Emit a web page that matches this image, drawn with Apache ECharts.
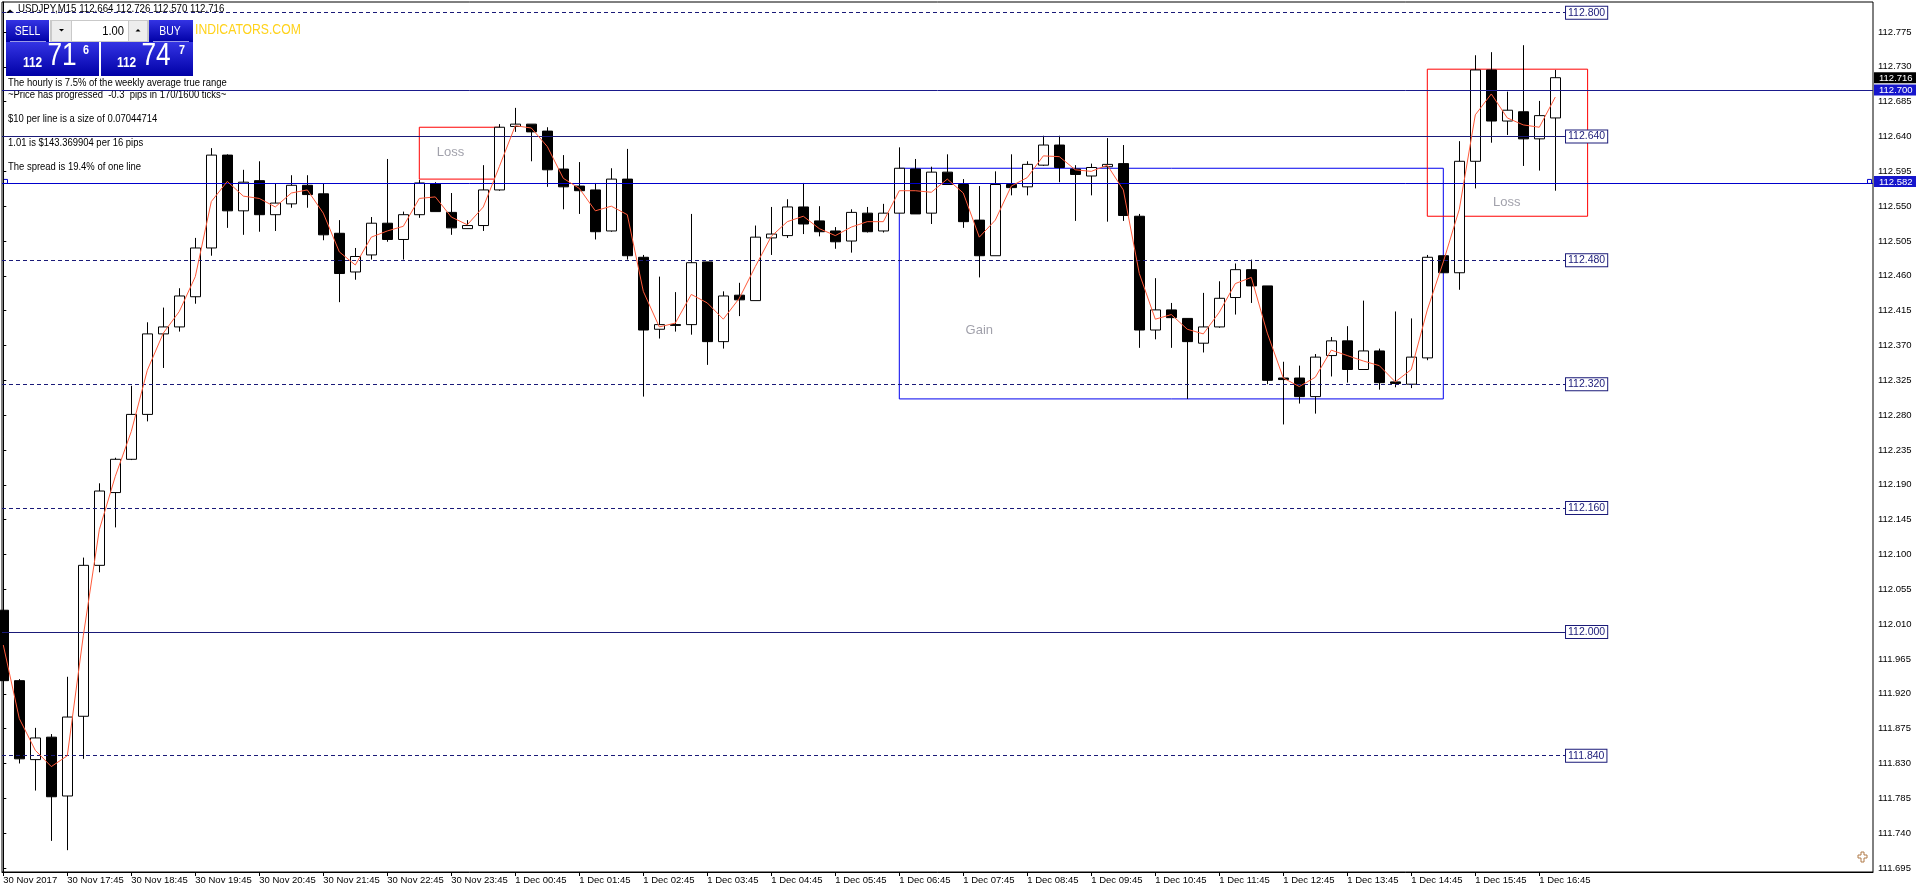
<!DOCTYPE html>
<html><head><meta charset="utf-8">
<script src="https://cdn.jsdelivr.net/npm/echarts@6/dist/echarts.min.js"></script>
<style>html,body{margin:0;padding:0;background:#fff;overflow:hidden}#c{width:1916px;height:893px}</style>
</head><body><div id="c"></div>
<script>
// ---------- data ----------
const symbolName = 'USDJPY,M15';
const opens = [112.028,111.937,111.835,111.864,111.788,111.891,112.086,112.180,112.223,112.281,
112.385,112.394,112.433,112.496,112.616,112.544,112.583,112.539,112.553,112.577,
112.566,112.515,112.465,112.487,112.528,112.507,112.539,112.579,112.542,112.521,
112.525,112.571,112.653,112.656,112.647,112.598,112.576,112.571,112.518,112.585,
112.484,112.391,112.397,112.397,112.478,112.375,112.435,112.428,112.509,112.512,
112.549,112.531,112.518,112.505,112.541,112.518,112.541,112.598,112.541,112.594,
112.578,112.532,112.486,112.578,112.575,112.603,112.629,112.598,112.589,112.601,
112.605,112.537,112.390,112.416,112.405,112.373,112.394,112.432,112.468,112.447,
112.328,112.328,112.304,112.357,112.376,112.339,112.363,112.323,112.320,112.354,
112.486,112.464,112.608,112.726,112.660,112.672,112.637,112.664];
const closes = [111.937,111.836,111.863,111.787,111.890,112.086,112.182,112.223,112.281,112.385,
112.394,112.434,112.496,112.616,112.544,112.581,112.539,112.554,112.577,112.565,
112.513,112.463,112.485,112.528,112.507,112.539,112.580,112.543,112.522,112.525,
112.571,112.652,112.656,112.646,112.597,112.575,112.570,112.517,112.585,112.486,
112.390,112.397,112.396,112.477,112.375,112.434,112.429,112.510,112.514,112.549,
112.527,112.517,112.504,112.542,112.517,112.541,112.599,112.540,112.594,112.578,
112.530,112.486,112.578,112.574,112.604,112.629,112.600,112.591,112.600,112.604,
112.538,112.390,112.416,112.406,112.375,112.394,112.431,112.468,112.447,112.325,
112.326,112.304,112.355,112.376,112.339,112.363,112.322,112.321,112.355,112.484,
112.464,112.608,112.726,112.660,112.674,112.637,112.667,112.716];
const lows = [111.906,111.830,111.795,111.730,111.718,111.836,112.077,112.135,112.222,112.272,
112.341,112.388,112.424,112.486,112.522,112.513,112.517,112.518,112.548,112.548,
112.506,112.426,112.455,112.481,112.504,112.481,112.535,112.543,112.513,112.521,
112.518,112.570,112.646,112.608,112.575,112.546,112.540,112.507,112.517,112.481,
112.304,112.379,112.388,112.384,112.345,112.366,112.408,112.428,112.487,112.509,
112.514,112.511,112.495,112.490,112.516,112.516,112.541,112.540,112.527,112.578,
112.522,112.458,112.486,112.564,112.564,112.602,112.581,112.531,112.564,112.530,
112.531,112.367,112.378,112.367,112.301,112.361,112.393,112.410,112.425,112.320,
112.268,112.295,112.282,112.330,112.322,112.339,112.313,112.316,112.315,112.351,
112.464,112.442,112.573,112.632,112.642,112.602,112.596,112.570];
const highs = [112.065,111.939,111.876,111.868,111.942,112.096,112.192,112.225,112.318,112.400,
112.419,112.444,112.509,112.625,112.617,112.597,112.608,112.579,112.590,112.590,
112.579,112.532,112.496,112.536,112.611,112.543,112.584,112.581,112.567,112.532,
112.603,112.656,112.677,112.656,112.652,112.616,112.607,112.580,112.599,112.624,
112.487,112.459,112.439,112.540,112.478,112.440,112.451,112.525,112.549,112.559,
112.580,112.550,112.523,112.546,112.549,112.553,112.626,112.611,112.601,112.617,
112.585,112.576,112.595,112.617,112.608,112.641,112.641,112.603,112.605,112.638,
112.629,112.540,112.457,112.425,112.405,112.438,112.453,112.476,112.481,112.447,
112.349,112.344,112.359,112.381,112.395,112.428,112.366,112.414,112.405,112.487,
112.486,112.634,112.745,112.749,112.698,112.758,112.686,112.726];
const maValues = [111.983,111.888,111.847,111.826,111.840,111.995,112.132,112.201,112.259,112.338,
112.386,112.414,112.459,112.556,112.582,112.563,112.560,112.549,112.567,112.571,
112.541,112.491,112.474,112.510,112.518,112.524,112.560,112.562,112.536,112.526,
112.549,112.601,112.654,112.651,112.627,112.586,112.573,112.544,112.550,112.539,
112.440,112.394,112.399,112.436,112.425,112.404,112.431,112.472,112.511,112.530,
112.537,112.521,112.512,112.523,112.530,112.530,112.570,112.570,112.568,112.585,
112.567,112.510,112.532,112.576,112.587,112.615,112.614,112.597,112.595,112.603,
112.571,112.463,112.404,112.410,112.391,112.385,112.413,112.450,112.458,112.386,
112.328,112.317,112.329,112.364,112.357,112.350,112.344,112.323,112.339,112.416,
112.478,112.546,112.668,112.695,112.664,112.655,112.652,112.691];
const tickLabels = ['30 Nov 2017','30 Nov 17:45','30 Nov 18:45','30 Nov 19:45','30 Nov 20:45','30 Nov 21:45',
'30 Nov 22:45','30 Nov 23:45','1 Dec 00:45','1 Dec 01:45','1 Dec 02:45','1 Dec 03:45','1 Dec 04:45',
'1 Dec 05:45','1 Dec 06:45','1 Dec 07:45','1 Dec 08:45','1 Dec 09:45','1 Dec 10:45','1 Dec 11:45',
'1 Dec 12:45','1 Dec 13:45','1 Dec 14:45','1 Dec 15:45','1 Dec 16:45'];
const barsPerLabel = 4;
const yTickValues = [111.695,111.740,111.785,111.830,111.875,111.920,111.965,112.010,112.055,112.100,
112.145,112.190,112.235,112.280,112.325,112.370,112.415,112.460,112.505,112.550,112.595,112.640,
112.685,112.730,112.775];
const dashedLevels = [112.800,112.480,112.320,112.160,111.840];
const solidLevels = [112.640,112.000];
const fullLevels = [112.700,112.582];
const axisMarkers = [112.716,112.700,112.582];
const zoneStart = [26,56,89];
const zoneEnd = [31,90,99.02];
const zoneTop = [112.652,112.599,112.727];
const zoneBottom = [112.585,112.301,112.537];
const zoneNames = ['Loss','Gain','Loss'];
const noteX = [27.95,61.0,93.96];
const noteY = [112.620,112.389,112.555];
const infoLines = ['The hourly is 7.5% of the weekly average true range',
'~Price has progressed  -0.3  pips in 170/1600 ticks~',
'$10 per line is a size of 0.07044714',
'1.01 is $143.369904 per 16 pips',
'The spread is 19.4% of one line'];

// ---------- layout / style ----------
const X_MIN = -0.08125, X_MAX = 116.856, Y_MIN = 111.6898, Y_MAX = 112.8138;
const LINE_END = 97.67;
const F = '"Liberation Sans",Arial,sans-serif';
const NAVY = '#1a1a78';
const SX = 0.86;

const chart = echarts.init(document.getElementById('c'), null, {renderer:'canvas'});
const n = opens.length;
const candles = opens.map((o,i)=>[i,o,closes[i],lows[i],highs[i]]);
const ma = maValues.map((v,i)=>[i,v]);
const tickIdx = tickLabels.map((_,k)=>k*barsPerLabel);

const boxLabel = p=>({show:true,position:'end',distance:0,formatter:p.toFixed(3),color:NAVY,fontSize:10.5,fontFamily:F,
          borderColor:NAVY,borderWidth:1,backgroundColor:'#fff',padding:[1,2,0,2]});
const mlData = [];
dashedLevels.forEach(p=>mlData.push([
  {coord:[X_MIN,p], lineStyle:{color:NAVY,type:[4,3],width:1}, label:boxLabel(p)},
  {coord:[LINE_END,p]}]));
solidLevels.forEach(p=>mlData.push([
  {coord:[X_MIN,p], lineStyle:{color:NAVY,type:'solid',width:1}, label:boxLabel(p)},
  {coord:[LINE_END,p]}]));
fullLevels.forEach((p,k)=>mlData.push({yAxis:p, lineStyle:{color:k===0?'#1a1a8c':'#0000cc',type:'solid',width:1}, label:{show:false}}));

const maData = zoneNames.map((nm,k)=>[
  {coord:[zoneStart[k],zoneTop[k]], itemStyle:{color:'rgba(0,0,0,0)',borderColor:nm==='Loss'?'#ff0000':'#0000ee',borderWidth:1}},
  {coord:[zoneEnd[k],zoneBottom[k]]}]);

const grad = ()=>new echarts.graphic.LinearGradient(0,0,0,1,[{offset:0,color:'#3434e4'},{offset:1,color:'#0000a6'}]);
const txt = (x,y,text,font,fill,align,valign,sx)=>({type:'text', x, y, scaleX:sx||SX,
  style:{text, font, fill, textAlign:align||'left', textVerticalAlign:valign||'bottom'}});
const last = n-1;
const graphics = [
  {type:'polygon', shape:{points:[[6,13],[10,9.5],[14,13]]}, style:{fill:'#000'}},
  txt(18,14.5,`${symbolName} ${opens[last].toFixed(3)} ${highs[last].toFixed(3)} ${lows[last].toFixed(3)} ${closes[last].toFixed(3)}`,`11px ${F}`,'#000','left','bottom',0.88),
  {type:'rect', shape:{x:6,y:20,width:43,height:22}, style:{fill:grad()}},
  {type:'rect', shape:{x:6,y:42,width:93,height:34}, style:{fill:grad()}},
  {type:'rect', shape:{x:149,y:20,width:44,height:22}, style:{fill:grad()}},
  {type:'rect', shape:{x:101,y:42,width:92,height:34}, style:{fill:grad()}},
  {type:'line', shape:{x1:10,y1:41.5,x2:46,y2:41.5}, style:{stroke:'#9a9ae6',lineWidth:1}},
  {type:'line', shape:{x1:153,y1:41.5,x2:189,y2:41.5}, style:{stroke:'#9a9ae6',lineWidth:1}},
  {type:'rect', shape:{x:50,y:20,width:99,height:22}, style:{fill:'#c9c9c9'}},
  {type:'rect', shape:{x:52,y:21,width:19,height:20}, style:{fill:'#ededed'}},
  {type:'rect', shape:{x:72,y:21,width:56,height:20}, style:{fill:'#fff'}},
  {type:'rect', shape:{x:129,y:21,width:18,height:20}, style:{fill:'#ededed'}},
  {type:'polygon', shape:{points:[[59,29],[64,29],[61.5,31.5]]}, style:{fill:'#000'}},
  {type:'polygon', shape:{points:[[135.5,31.5],[140.5,31.5],[138,29]]}, style:{fill:'#000'}},
  txt(124,31,'1.00',`13px ${F}`,'#000','right','middle'),
  txt(27.5,31,'SELL',`13px ${F}`,'#fff','center','middle',0.8),
  txt(170,31,'BUY',`13px ${F}`,'#fff','center','middle',0.8),
  txt(23,70,'112',`bold 14px ${F}`,'#fff','left','bottom',0.85),
  txt(47.5,72.5,'71',`32px ${F}`,'#fff','left','bottom',0.82),
  txt(83,56.5,'6',`bold 12px ${F}`,'#fff','left','bottom',0.9),
  txt(117,70,'112',`bold 14px ${F}`,'#fff','left','bottom',0.85),
  txt(141.5,72.5,'74',`32px ${F}`,'#fff','left','bottom',0.82),
  txt(179,56.5,'7',`bold 12px ${F}`,'#fff','left','bottom',0.9),
  txt(195,37.5,'INDICATORS.COM',`14px ${F}`,'#ffd21a','left','bottom',0.87),
  {type:'polygon', shape:{points:[[1861,852],[1864,852],[1864,855],[1867,855],[1867,858],[1864,858],[1864,862],[1861,862],[1861,858],[1858,858],[1858,855],[1861,855]]},
   style:{fill:'#fff',stroke:'#b07a48',lineWidth:1}}
];
const infoBase = [88,100,124,148,172];
infoLines.forEach((t,k)=>graphics.push(txt(8,infoBase[k],t,`11px ${F}`,'#000','left','bottom',0.86)));

chart.setOption({
  animation:false,
  backgroundColor:'#fff',
  grid:{left:2, right:43, top:2, bottom:21, show:true, borderColor:'#000', borderWidth:1, backgroundColor:'#fff',
        containLabel:false, outerBoundsMode:'none'},
  xAxis:{type:'value', min:X_MIN, max:X_MAX, position:'bottom',
    axisLine:{show:true, lineStyle:{color:'#000',width:1}},
    axisTick:{show:true, customValues:tickIdx, length:4, lineStyle:{color:'#000'}},
    axisLabel:{customValues:tickIdx, align:'left', margin:3, fontSize:9.5, fontFamily:F, color:'#000',
      formatter:v=>tickLabels[Math.round(v/barsPerLabel)]},
    splitLine:{show:false}},
  yAxis:[
    {type:'value', position:'right', min:Y_MIN, max:Y_MAX,
      axisLine:{show:true, lineStyle:{color:'#000',width:1}},
      axisTick:{show:true, customValues:yTickValues, length:3, lineStyle:{color:'#000'}},
      axisLabel:{customValues:yTickValues, margin:5, fontSize:9.5, fontFamily:F, color:'#000', formatter:v=>v.toFixed(3)},
      splitLine:{show:false}},
    {type:'value', position:'right', min:Y_MIN, max:Y_MAX,
      axisLine:{show:false}, axisTick:{show:false}, splitLine:{show:false},
      axisLabel:{customValues:axisMarkers, margin:1, fontFamily:F,
        formatter:v=>{const k=axisMarkers.reduce((b,m,i)=>Math.abs(m-v)<Math.abs(axisMarkers[b]-v)?i:b,0);
          return (k===0?'{k|':'{b|')+axisMarkers[k].toFixed(3)+'}';},
        rich:{k:{backgroundColor:'#000',color:'#fff',fontSize:9.5,fontFamily:F,padding:[1,5,0,5],lineHeight:11},
              b:{backgroundColor:'#1616cc',color:'#fff',fontSize:9.5,fontFamily:F,padding:[1,5,0,5],lineHeight:11}}}}
  ],
  series:[
    {type:'candlestick', data:candles, encode:{x:0,y:[1,2,3,4]}, barWidth:10, clip:true,
      itemStyle:{color:'#fff',color0:'#000',borderColor:'#000',borderColor0:'#000',borderWidth:1},
      markLine:{silent:true, symbol:['none','none'], animation:false, data:mlData},
      markArea:{silent:true, data:maData, label:{show:false}}},
    {type:'line', data:ma, symbol:'none', showSymbol:false, clip:true, z:5,
      lineStyle:{color:'#ff5a3a', width:1}},
    {type:'scatter', data:zoneNames.map((nm,k)=>[noteX[k],noteY[k],nm]), symbolSize:1, z:6,
      itemStyle:{color:'rgba(0,0,0,0)'},
      label:{show:true, position:'inside', formatter:p=>p.data[2], color:'#8a8a96', fontSize:13, fontFamily:F}}
  ],
  graphic:graphics
});

// selected-line handles placed from the data scale
const hy = chart.convertToPixel({yAxisIndex:0}, fullLevels[1]);
const xl = chart.convertToPixel({xAxisIndex:0}, X_MIN);
const xr = chart.convertToPixel({xAxisIndex:0}, X_MAX);
graphics.push({type:'rect', shape:{x:xl+1.5,y:hy-2,width:4,height:4}, style:{fill:'#fff',stroke:'#0000cc',lineWidth:1}});
graphics.push({type:'rect', shape:{x:xr-5.5,y:hy-2,width:4,height:4}, style:{fill:'#fff',stroke:'#0000cc',lineWidth:1}});
chart.setOption({graphic:graphics});
</script></body></html>
